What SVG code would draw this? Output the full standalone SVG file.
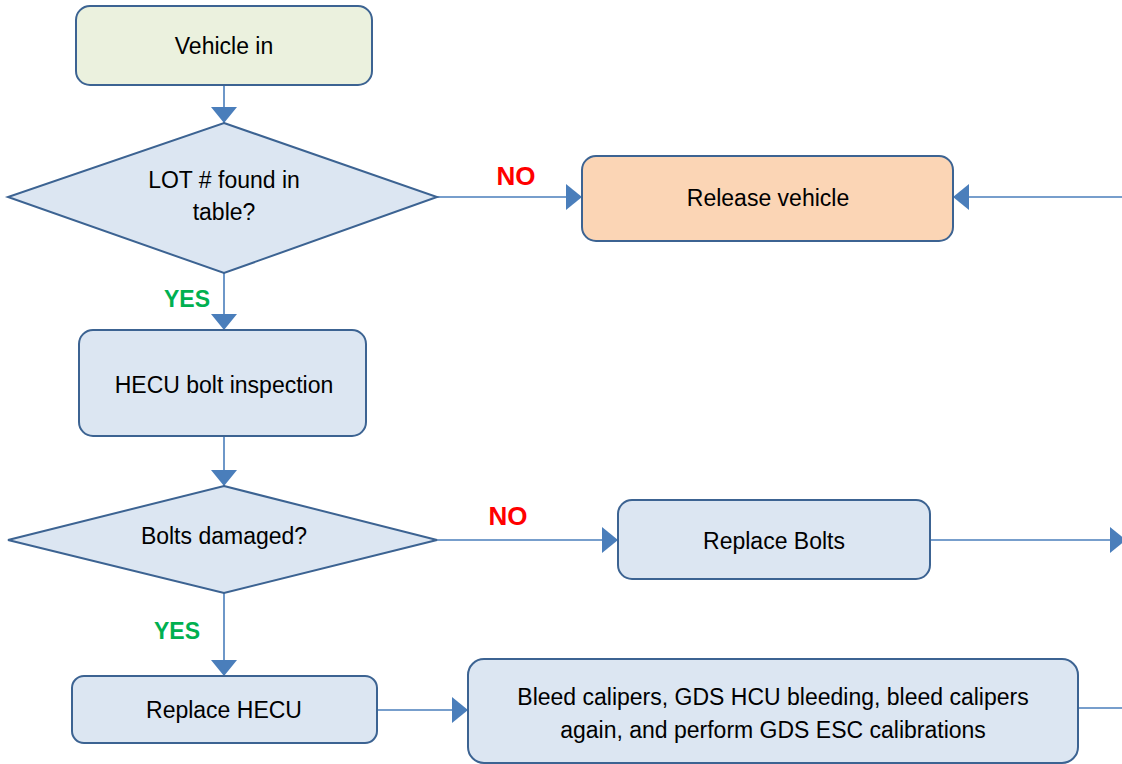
<svg xmlns="http://www.w3.org/2000/svg" width="1122" height="764" viewBox="0 0 1122 764">
<style>
.box{stroke:#3C6392;stroke-width:2;}
.blue{fill:#DCE6F2;}
.green{fill:#EBF1DE;}
.peach{fill:#FBD5B5;}
.t{font-family:"Liberation Sans",Arial,sans-serif;font-size:23px;fill:#000;text-anchor:middle;}
.conn{stroke:#4A7EBB;stroke-width:1.6;fill:none;marker-end:url(#ah);}
.no{font-family:"Liberation Sans",Arial,sans-serif;font-size:26px;font-weight:bold;fill:#FF0000;text-anchor:middle;}
.yes{font-family:"Liberation Sans",Arial,sans-serif;font-size:23px;font-weight:bold;fill:#00B050;text-anchor:middle;}
</style>
<defs>
<marker id="ah" viewBox="0 0 16 26" refX="16" refY="13" markerWidth="16" markerHeight="26" markerUnits="userSpaceOnUse" orient="auto">
<path d="M0,0 L16,13 L0,26 Z" fill="#4A7EBB"/>
</marker>
</defs>
<rect width="1122" height="764" fill="#FFFFFF"/>
<g id="connectors">
<line class="conn" x1="224" y1="85" x2="224" y2="123"/>
<line class="conn" x1="437" y1="197" x2="582" y2="197"/>
<line class="conn" x1="1124" y1="197" x2="953" y2="197"/>
<line class="conn" x1="224" y1="273" x2="224" y2="330"/>
<line class="conn" x1="224" y1="436" x2="224" y2="486"/>
<line class="conn" x1="437" y1="540" x2="618" y2="540"/>
<line class="conn" x1="930" y1="540" x2="1126" y2="540"/>
<line class="conn" x1="224" y1="593" x2="224" y2="676"/>
<line class="conn" x1="377" y1="710" x2="468" y2="710"/>
<line stroke="#4A7EBB" stroke-width="1.6" x1="1078" y1="708" x2="1122" y2="708"/>
<text class="no" x="516" y="185">NO</text>
<text class="yes" x="187" y="307">YES</text>
<text class="no" x="508" y="525">NO</text>
<text class="yes" x="177" y="639">YES</text>
</g>
<g id="vehicle-in">
<rect class="box green" x="76" y="6" width="296" height="79" rx="14"/>
<text class="t" x="224" y="54">Vehicle in</text>
</g>
<g id="lot-found">
<polygon class="box blue" points="224,123 437,197 224,273 8,197"/>
<text class="t" x="224" y="188">LOT # found in</text>
<text class="t" x="224" y="220">table?</text>
</g>
<g id="release-vehicle">
<rect class="box peach" x="582" y="156" width="371" height="85" rx="14"/>
<text class="t" x="768" y="206">Release vehicle</text>
</g>
<g id="hecu-inspection">
<rect class="box blue" x="79" y="330" width="287" height="106" rx="14"/>
<text class="t" x="224" y="393">HECU bolt inspection</text>
</g>
<g id="bolts-damaged">
<polygon class="box blue" points="224,486 437,540 224,593 8,540"/>
<text class="t" x="224" y="544">Bolts damaged?</text>
</g>
<g id="replace-bolts">
<rect class="box blue" x="618" y="500" width="312" height="79" rx="14"/>
<text class="t" x="774" y="549">Replace Bolts</text>
</g>
<g id="replace-hecu">
<rect class="box blue" x="72" y="676" width="305" height="67" rx="12"/>
<text class="t" x="224" y="718">Replace HECU</text>
</g>
<g id="bleed">
<rect class="box blue" x="468" y="659" width="610" height="104" rx="16"/>
<text class="t" x="773" y="705">Bleed calipers, GDS HCU bleeding, bleed calipers</text>
<text class="t" x="773" y="738">again, and perform GDS ESC calibrations</text>
</g>
</svg>
